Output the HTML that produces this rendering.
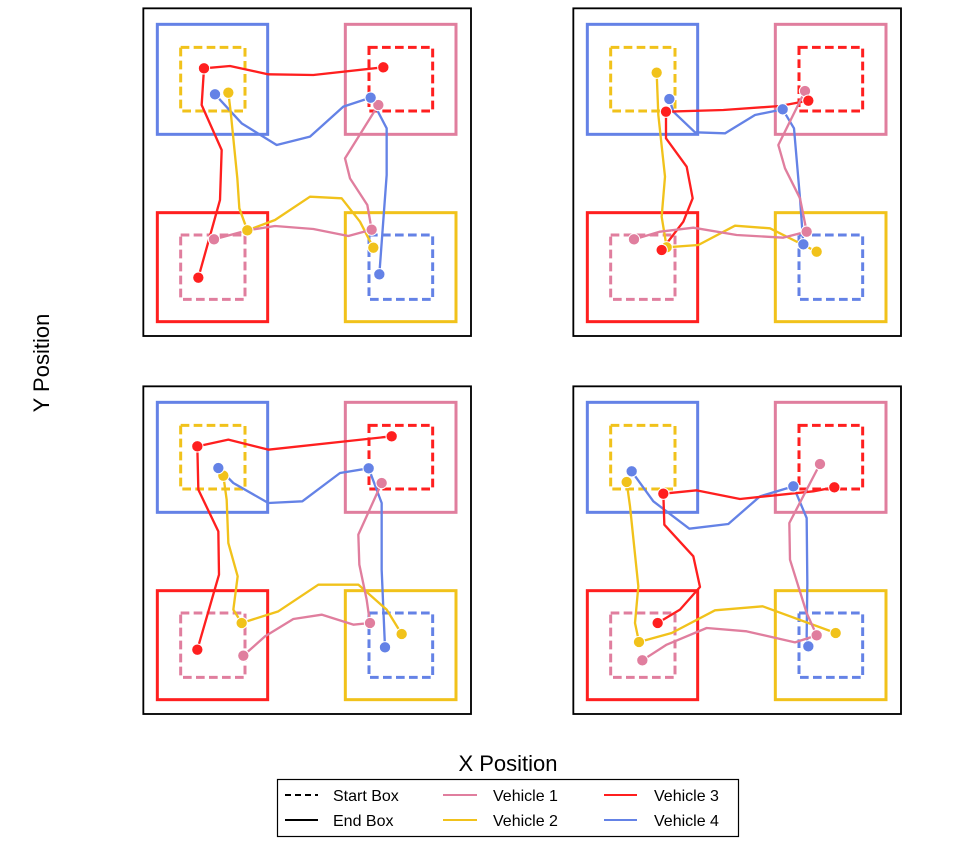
<!DOCTYPE html>
<html><head><meta charset="utf-8"><style>
html,body{margin:0;padding:0;background:#fff;}
svg{display:block;font-family:"Liberation Sans","DejaVu Sans",sans-serif;}
</style></head><body>
<svg width="957" height="846" viewBox="0 0 957 846" xmlns="http://www.w3.org/2000/svg">
<defs>
<g id="boxes">
<rect x="0" y="0" width="1003" height="1003" fill="#fff"/>
<rect x="10" y="10" width="983" height="983" fill="none" stroke="#000" stroke-width="5.5"/>
<rect x="52" y="58" width="331" height="330" fill="none" stroke="#6482E6" stroke-width="9"/>
<rect x="616" y="58" width="332" height="330" fill="none" stroke="#E07E9E" stroke-width="9"/>
<rect x="52" y="623" width="331" height="327" fill="none" stroke="#FF1F1F" stroke-width="9"/>
<rect x="616" y="623" width="332" height="327" fill="none" stroke="#F1C21B" stroke-width="9"/>
<g fill="none" stroke-width="9" stroke-dasharray="26 13">
<rect x="122" y="127" width="193" height="191" stroke="#F1C21B"/>
<rect x="687" y="127" width="191" height="191" stroke="#FF1F1F"/>
<rect x="122" y="690" width="193" height="193" stroke="#E07E9E"/>
<rect x="687" y="690" width="191" height="193" stroke="#6482E6"/>
</g>
</g>
</defs>

<g transform="translate(140,5) scale(0.33333)">
<use href="#boxes"/>
<g fill="none" stroke-width="7" stroke-linejoin="round">
<polyline stroke="#FF1F1F" points="730,187 520,210 385,208 270,183 192,190 185,300 245,435 240,585 175,818"/>
<polyline stroke="#6482E6" points="225,268 305,355 410,420 510,395 610,305 692,278 740,370 740,510 718,808"/>
<polyline stroke="#F1C21B" points="265,263 272,320 292,520 298,610 322,676 405,645 510,575 605,580 660,650 700,728"/>
<polyline stroke="#E07E9E" points="222,703 322,676 405,663 520,672 625,693 695,674 682,600 630,520 615,460 715,300"/>
</g>
<g stroke="#fff" stroke-width="3">
<circle cx="715" cy="300" r="17" fill="#E07E9E"/><circle cx="222" cy="703" r="17" fill="#E07E9E"/><circle cx="695" cy="674" r="17" fill="#E07E9E"/>
<circle cx="265" cy="263" r="17" fill="#F1C21B"/><circle cx="322" cy="676" r="17" fill="#F1C21B"/><circle cx="700" cy="728" r="17" fill="#F1C21B"/>
<circle cx="192" cy="190" r="17" fill="#FF1F1F"/><circle cx="730" cy="187" r="17" fill="#FF1F1F"/><circle cx="175" cy="818" r="17" fill="#FF1F1F"/>
<circle cx="225" cy="268" r="17" fill="#6482E6"/><circle cx="692" cy="278" r="17" fill="#6482E6"/><circle cx="718" cy="808" r="17" fill="#6482E6"/>
</g>
</g>

<g transform="translate(570,5) scale(0.33333)">
<use href="#boxes"/>
<g fill="none" stroke-width="7" stroke-linejoin="round">
<polyline stroke="#F1C21B" points="260,203 265,330 285,515 275,635 290,727 385,720 495,662 600,670 700,720 740,740"/>
<polyline stroke="#6482E6" points="298,282 310,320 375,382 465,385 555,330 638,313 672,370 690,580 700,718"/>
<polyline stroke="#FF1F1F" points="715,287 630,303 460,315 288,320 288,400 350,485 368,580 340,650 275,735"/>
<polyline stroke="#E07E9E" points="192,703 270,680 370,668 500,690 640,698 710,680 690,580 645,490 625,420 705,258"/>
</g>
<g stroke="#fff" stroke-width="3">
<circle cx="705" cy="258" r="17" fill="#E07E9E"/><circle cx="192" cy="703" r="17" fill="#E07E9E"/><circle cx="710" cy="680" r="17" fill="#E07E9E"/>
<circle cx="260" cy="203" r="17" fill="#F1C21B"/><circle cx="290" cy="727" r="17" fill="#F1C21B"/><circle cx="740" cy="740" r="17" fill="#F1C21B"/>
<circle cx="298" cy="282" r="17" fill="#6482E6"/><circle cx="638" cy="313" r="17" fill="#6482E6"/><circle cx="700" cy="718" r="17" fill="#6482E6"/>
<circle cx="288" cy="320" r="17" fill="#FF1F1F"/><circle cx="715" cy="287" r="17" fill="#FF1F1F"/><circle cx="275" cy="735" r="17" fill="#FF1F1F"/>
</g>
</g>

<g transform="translate(140,383) scale(0.33333)">
<use href="#boxes"/>
<g fill="none" stroke-width="7" stroke-linejoin="round">
<polyline stroke="#FF1F1F" points="755,160 385,200 265,170 172,190 175,320 235,445 237,575 172,800"/>
<polyline stroke="#6482E6" points="235,255 280,300 385,360 487,355 600,270 686,256 725,360 725,560 735,793"/>
<polyline stroke="#F1C21B" points="250,278 260,350 265,480 293,580 280,680 305,720 415,685 535,605 655,605 740,680 785,753"/>
<polyline stroke="#E07E9E" points="310,818 375,760 460,708 545,695 640,725 690,720 680,650 658,545 655,455 725,300"/>
</g>
<g stroke="#fff" stroke-width="3">
<circle cx="725" cy="300" r="17" fill="#E07E9E"/><circle cx="310" cy="818" r="17" fill="#E07E9E"/><circle cx="690" cy="720" r="17" fill="#E07E9E"/>
<circle cx="250" cy="278" r="17" fill="#F1C21B"/><circle cx="305" cy="720" r="17" fill="#F1C21B"/><circle cx="785" cy="753" r="17" fill="#F1C21B"/>
<circle cx="172" cy="190" r="17" fill="#FF1F1F"/><circle cx="755" cy="160" r="17" fill="#FF1F1F"/><circle cx="172" cy="800" r="17" fill="#FF1F1F"/>
<circle cx="235" cy="255" r="17" fill="#6482E6"/><circle cx="686" cy="256" r="17" fill="#6482E6"/><circle cx="735" cy="793" r="17" fill="#6482E6"/>
</g>
</g>

<g transform="translate(570,383) scale(0.33333)">
<use href="#boxes"/>
<g fill="none" stroke-width="7" stroke-linejoin="round">
<polyline stroke="#6482E6" points="185,265 250,355 358,437 475,423 570,340 670,310 710,405 712,600 710,760 715,790"/>
<polyline stroke="#F1C21B" points="170,297 180,370 205,610 195,720 207,777 305,750 435,682 578,670 797,750"/>
<polyline stroke="#FF1F1F" points="793,313 730,325 510,348 380,322 280,332 283,425 370,520 390,612 330,680 263,720"/>
<polyline stroke="#E07E9E" points="217,832 290,785 410,735 530,745 675,778 740,757 710,690 660,530 658,420 750,243"/>
</g>
<g stroke="#fff" stroke-width="3">
<circle cx="750" cy="243" r="17" fill="#E07E9E"/><circle cx="217" cy="832" r="17" fill="#E07E9E"/><circle cx="740" cy="757" r="17" fill="#E07E9E"/>
<circle cx="170" cy="297" r="17" fill="#F1C21B"/><circle cx="207" cy="777" r="17" fill="#F1C21B"/><circle cx="797" cy="750" r="17" fill="#F1C21B"/>
<circle cx="185" cy="265" r="17" fill="#6482E6"/><circle cx="670" cy="310" r="17" fill="#6482E6"/><circle cx="715" cy="790" r="17" fill="#6482E6"/>
<circle cx="280" cy="332" r="17" fill="#FF1F1F"/><circle cx="793" cy="313" r="17" fill="#FF1F1F"/><circle cx="263" cy="720" r="17" fill="#FF1F1F"/>
</g>
</g>

<text x="508" y="771" font-size="22" text-anchor="middle" fill="#000">X Position</text>
<text transform="translate(49,363) rotate(-90)" font-size="22" text-anchor="middle" fill="#000">Y Position</text>

<rect x="277.5" y="779.5" width="461" height="57" fill="#fff" stroke="#000" stroke-width="1.2"/>
<g stroke-width="2">
<line x1="285" y1="795" x2="318" y2="795" stroke="#000" stroke-dasharray="6 4"/>
<line x1="285" y1="820" x2="318" y2="820" stroke="#000"/>
<line x1="443" y1="795" x2="477" y2="795" stroke="#E07E9E"/>
<line x1="443" y1="820" x2="477" y2="820" stroke="#F1C21B"/>
<line x1="604" y1="795" x2="637" y2="795" stroke="#FF1F1F"/>
<line x1="604" y1="820" x2="637" y2="820" stroke="#6482E6"/>
</g>
<g font-size="16" fill="#000">
<text x="333" y="801">Start Box</text>
<text x="333" y="826">End Box</text>
<text x="493" y="801">Vehicle 1</text>
<text x="493" y="826">Vehicle 2</text>
<text x="654" y="801">Vehicle 3</text>
<text x="654" y="826">Vehicle 4</text>
</g>
</svg>
</body></html>
